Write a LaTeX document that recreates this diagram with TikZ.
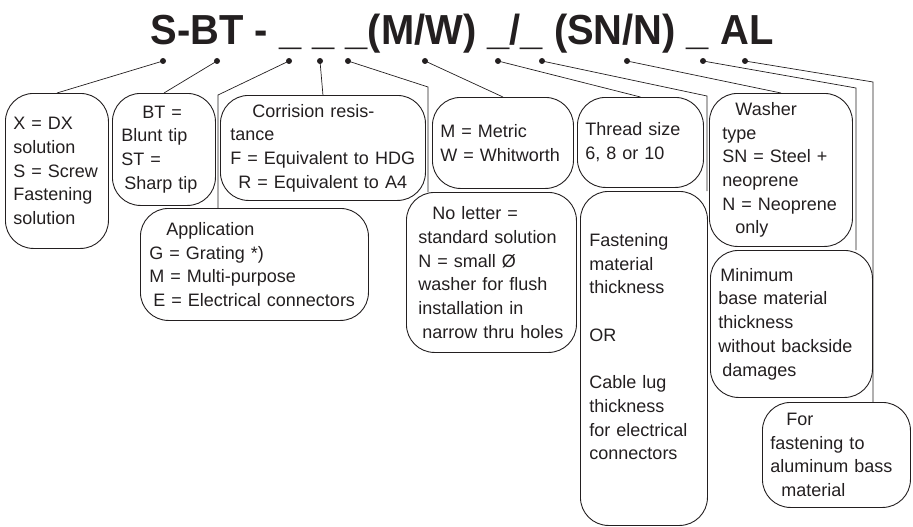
\documentclass[tikz,border=0pt]{standalone}
\usepackage{fontspec}
\setmainfont{Liberation Sans}
\newfontfamily\headfont[FakeStretch=0.95]{Liberation Sans}
\usetikzlibrary{calc}
\definecolor{inkgray}{RGB}{35,31,32}
\newcommand{\lind}[1]{\hspace*{#1pt}}
\tikzset{
  lbl/.style={draw=inkgray,line width=0.9pt,rounded corners=28pt,anchor=north west,
    inner xsep=8pt,inner ysep=0pt,align=left,text=inkgray,
    font=\fontsize{18}{23.7}\selectfont},
  lead/.style={draw=inkgray,line width=0.7pt},
}

\begin{document}
\begin{tikzpicture}[x=1pt,y=-1pt]
  \useasboundingbox (0,0) rectangle (913,527);
  \node[anchor=base,text=inkgray,font=\headfont\bfseries\fontsize{42}{42}\selectfont]
    (code) at (462,45) {S-BT - \_ \_ \_(M/W) \_/\_ (SN/N) \_ AL};

  % dots under the code and the bends of the leaders
  \foreach \n/\x in {1/163,2/217,3/289,4/320,5/348,6/425,7/498,8/542,9/627,10/703,11/745}
    \coordinate (d\n) at (\x,61);
  \coordinate (k3) at (218,95);
  \coordinate (k5) at (428,87);
  \coordinate (k8) at (707,96);
  \coordinate (k10) at (856,88);
  \coordinate (k11) at (873,82);

  % boxes
  \node[lbl,text width=87pt,minimum height=155pt] (xdx) at (5,93)
    {X = DX\\ solution\\ S = Screw\\ Fastening\\ solution};
  \node[lbl,text width=87pt,minimum height=112pt] (tip) at (112,93)
    {\lind{22}BT =\\ \lind{1}Blunt tip\\ \lind{1}ST =\\ \lind{4}Sharp tip};
  \node[lbl,text width=189pt,minimum height=105pt] (corr) at (220,95)
    {\lind{24}Corrision resis-\\ \lind{2}tance\\ \lind{2}F = Equivalent to HDG\\ \lind{10}R = Equivalent to A4};
  \node[lbl,text width=212pt,minimum height=112pt] (app) at (140,208)
    {\lind{18}Application\\ \lind{1}G = Grating *)\\ \lind{1}M = Multi-purpose\\ \lind{5}E = Electrical connectors};
  \node[lbl,text width=125pt,minimum height=91pt] (mw) at (432,97)
    {M = Metric\\ W = Whitworth};
  \node[lbl,text width=110pt,minimum height=90pt] (thread) at (577,97)
    {Thread size\\ 6, 8 or 10};
  \node[lbl,text width=154pt,minimum height=160pt] (noltr) at (406,192)
    {\lind{18}No letter =\\ \lind{4}standard solution\\ \lind{4}N = small Ø\\ \lind{4}washer for flush\\ \lind{4}installation in\\ \lind{8}narrow thru holes};
  \node[lbl,text width=111pt,minimum height=334pt] (fast) at (580,191)
    {\lind{1}Fastening\\ \lind{1}material\\ \lind{1}thickness\\[23.7pt] \lind{1}OR\\[23.7pt] \lind{1}Cable lug\\ \lind{1}thickness\\ \lind{1}for electrical\\ \lind{1}connectors\\ ~};
  \node[lbl,text width=127pt,minimum height=153pt] (washer) at (709,93)
    {\lind{18}Washer\\ \lind{5}type\\ \lind{5}SN = Steel +\\ \lind{5}neoprene\\ \lind{5}N = Neoprene\\ \lind{18}only};
  \node[lbl,text width=146pt,minimum height=147pt] (mini) at (710,250)
    {\lind{2}Minimum\\ base material\\ thickness\\ without backside\\ \lind{4}damages};
  \node[lbl,text width=132pt,minimum height=105pt] (alu) at (762,402)
    {\lind{16}For\\ fastening to\\ aluminum bass\\ \lind{11}material};

  % leaders
  \draw[lead] (d1) -- (xdx.north);
  \draw[lead] (d2) -- (tip.north);
  \draw[lead] (d3) -- (k3) -- (k3 |- app.north);
  \draw[lead] (d4) -- (corr.north);
  \draw[lead] (d5) -- (k5) -- (k5 |- noltr.north);
  \draw[lead] (d6) -- (mw.north);
  \draw[lead] (d7) -- (thread.north);
  \draw[lead] (d8) -- (k8) -- (k8 |- fast.north);
  \draw[lead] (d9) -- (washer.north);
  \draw[lead] (d10) -- (k10) -- (k10 |- mini.north);
  \draw[lead] (d11) -- (k11) -- (k11 |- alu.north);
  \foreach \n in {1,...,11}
    \fill[inkgray] (d\n) circle (3pt);
\end{tikzpicture}
\end{document}
